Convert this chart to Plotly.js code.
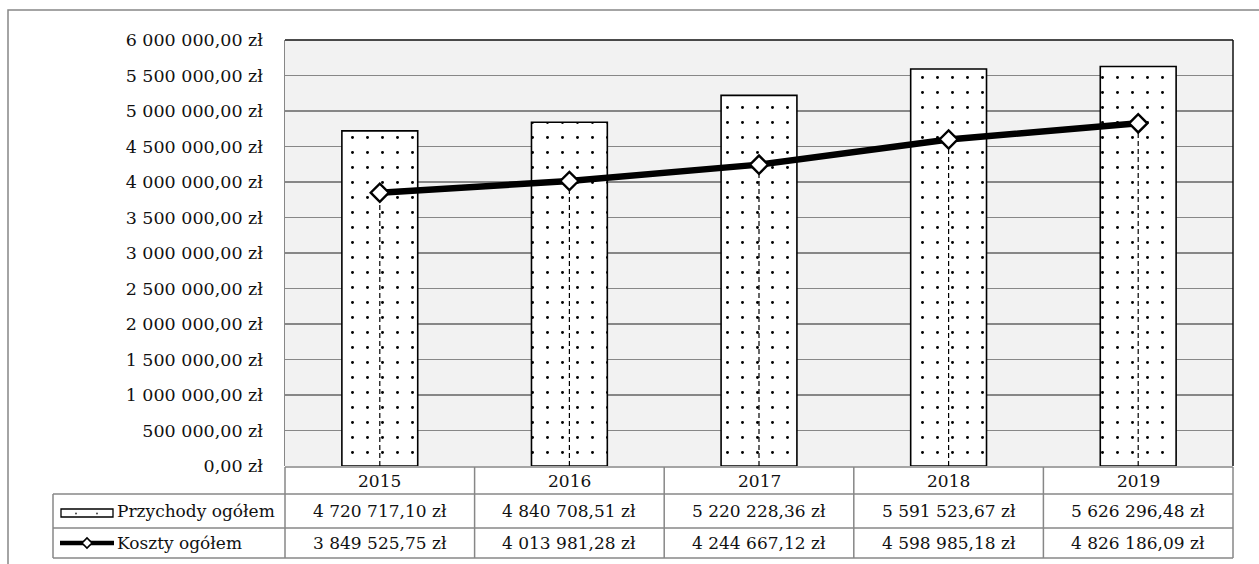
<!DOCTYPE html>
<html>
<head>
<meta charset="utf-8">
<script src="https://cdn.plot.ly/plotly-3.0.1.min.js"></script>
<style>html,body{margin:0;padding:0;background:#fff;}#chart{width:1259px;height:564px;}</style>
</head>
<body>
<div id="chart"></div>
<script>
const years = ['2015', '2016', '2017', '2018', '2019'];
const przychody = [4720717.10, 4840708.51, 5220228.36, 5591523.67, 5626296.48];
const koszty = [3849525.75, 4013981.28, 4244667.12, 4598985.18, 4826186.09];
const yTicks = [0, 500000, 1000000, 1500000, 2000000, 2500000, 3000000, 3500000, 4000000, 4500000, 5000000, 5500000, 6000000];
const seriesNames = ['Przychody ogółem', 'Koszty ogółem'];

function fmtPLN(v) {
  const parts = v.toFixed(2).split('.');
  const intPart = parts[0].replace(/\B(?=(\d{3})+(?!\d))/g, ' ');
  return intPart + ',' + parts[1] + ' zł';
}

const W = 1259, H = 564;
const L = 285, R = 26, T = 40, B = 98;
const pw = W - L - R, ph = H - T - B;
const px = v => (v - L) / pw;
const py = v => (H - B - v) / ph;

const FONT = 'DejaVu Serif';
const GRID = '#878787';

const bars = {
  type: 'bar', x: years, y: przychody, name: seriesNames[0], width: 0.4,
  marker: {
    color: 'white',
    line: {color: 'black', width: 1.6},
    pattern: {shape: '.', fgcolor: '#000', bgcolor: 'white', size: 15, solidity: 0.03}
  },
  hoverinfo: 'skip'
};

const dx = [], dy = [];
years.forEach((yr, i) => { dx.push(yr, yr, null); dy.push(0, koszty[i], null); });
const drops = {
  type: 'scatter', mode: 'lines', x: dx, y: dy, showlegend: false,
  line: {color: 'black', width: 1.2, dash: '5px,3px'}, hoverinfo: 'skip'
};

const line = {
  type: 'scatter', mode: 'lines+markers', x: years, y: koszty, name: seriesNames[1],
  line: {color: 'black', width: 6.5},
  marker: {symbol: 'diamond', size: 14, color: 'white', line: {color: 'black', width: 2.4}},
  hoverinfo: 'skip'
};

const shapes = [];
const annotations = [];
// outer frame
shapes.push({type: 'rect', xref: 'paper', yref: 'paper', x0: px(8), x1: px(1275), y0: py(10), y1: py(590),
  line: {color: GRID, width: 1.5}, fillcolor: 'rgba(0,0,0,0)'});
// plot area top & right border
shapes.push({type: 'line', xref: 'paper', yref: 'paper', x0: 0, x1: 1, y0: 1, y1: 1, line: {color: '#111', width: 1.5}});
shapes.push({type: 'line', xref: 'paper', yref: 'paper', x0: 1, x1: 1, y0: 0, y1: 1, line: {color: '#111', width: 1.5}});

// data table
const rowY = [467, 494, 528, 558];
const tLeft = 53;
shapes.push({type: 'line', xref: 'paper', yref: 'paper', x0: 0, x1: 1, y0: py(rowY[0]), y1: py(rowY[0]), line: {color: GRID, width: 1.5}});
for (let r = 1; r < rowY.length; r++) {
  shapes.push({type: 'line', xref: 'paper', yref: 'paper', x0: px(tLeft), x1: 1, y0: py(rowY[r]), y1: py(rowY[r]), line: {color: GRID, width: 1.5}});
}
shapes.push({type: 'line', xref: 'paper', yref: 'paper', x0: px(tLeft), x1: px(tLeft), y0: py(rowY[1]), y1: py(rowY[3]), line: {color: GRID, width: 1.5}});
for (let k = 0; k <= years.length; k++) {
  const xp = k / years.length;
  shapes.push({type: 'line', xref: 'paper', yref: 'paper', x0: xp, x1: xp, y0: py(rowY[0]), y1: py(rowY[3]), line: {color: GRID, width: 1.5}});
}

const tfont = {family: FONT, size: 17, color: '#111'};
years.forEach((yr, i) => {
  annotations.push({xref: 'x', yref: 'paper', x: i, y: py((rowY[0] + rowY[1]) / 2), text: yr, showarrow: false, font: tfont, xanchor: 'center', yanchor: 'middle'});
  annotations.push({xref: 'x', yref: 'paper', x: i, y: py((rowY[1] + rowY[2]) / 2), text: fmtPLN(przychody[i]), showarrow: false, font: tfont, xanchor: 'center', yanchor: 'middle'});
  annotations.push({xref: 'x', yref: 'paper', x: i, y: py((rowY[2] + rowY[3]) / 2), text: fmtPLN(koszty[i]), showarrow: false, font: tfont, xanchor: 'center', yanchor: 'middle'});
});
annotations.push({xref: 'paper', yref: 'paper', x: px(115), y: py((rowY[1] + rowY[2]) / 2), text: seriesNames[0], showarrow: false, font: tfont, xanchor: 'left', yanchor: 'middle'});
annotations.push({xref: 'paper', yref: 'paper', x: px(115), y: py((rowY[2] + rowY[3]) / 2), text: seriesNames[1], showarrow: false, font: tfont, xanchor: 'left', yanchor: 'middle'});

// legend keys
shapes.push({type: 'rect', xref: 'paper', yref: 'paper', x0: px(61), x1: px(113), y0: py(509), y1: py(517), line: {color: 'black', width: 1.3}, fillcolor: 'white'});
[76, 97].forEach(cx => shapes.push({type: 'circle', xref: 'paper', yref: 'paper', x0: px(cx - 0.9), x1: px(cx + 0.9), y0: py(514.4), y1: py(512.6), line: {width: 0}, fillcolor: '#333'}));
shapes.push({type: 'line', xref: 'paper', yref: 'paper', x0: px(60), x1: px(114), y0: py(543), y1: py(543), line: {color: 'black', width: 4.5}});
const kx = 87, ky = 543, kr = 5;
shapes.push({type: 'path', xref: 'paper', yref: 'paper',
  path: 'M ' + px(kx - kr) + ' ' + py(ky) + ' L ' + px(kx) + ' ' + py(ky - kr) + ' L ' + px(kx + kr) + ' ' + py(ky) + ' L ' + px(kx) + ' ' + py(ky + kr) + ' Z',
  line: {color: 'black', width: 1.6}, fillcolor: 'white'});

const layout = {
  width: W, height: H,
  margin: {l: L, r: R, t: T, b: B, pad: 0},
  paper_bgcolor: 'white', plot_bgcolor: '#f2f2f2',
  showlegend: false,
  font: {family: FONT, size: 17, color: '#111'},
  xaxis: {type: 'category', range: [-0.5, 4.5], showticklabels: false, showgrid: false, zeroline: false,
    showline: false, ticks: ''},
  yaxis: {range: [0, 6000000], tickvals: yTicks, ticktext: yTicks.map(fmtPLN), showgrid: true,
    gridcolor: GRID, gridwidth: 1.3, zeroline: false, showline: true, linecolor: GRID, linewidth: 1.5,
    ticks: '', ticklabelstandoff: 17, tickfont: {family: FONT, size: 17.5, color: '#111'}},
  shapes: shapes,
  annotations: annotations
};

Plotly.newPlot('chart', [bars, drops, line], layout, {staticPlot: true});
</script>
</body>
</html>
